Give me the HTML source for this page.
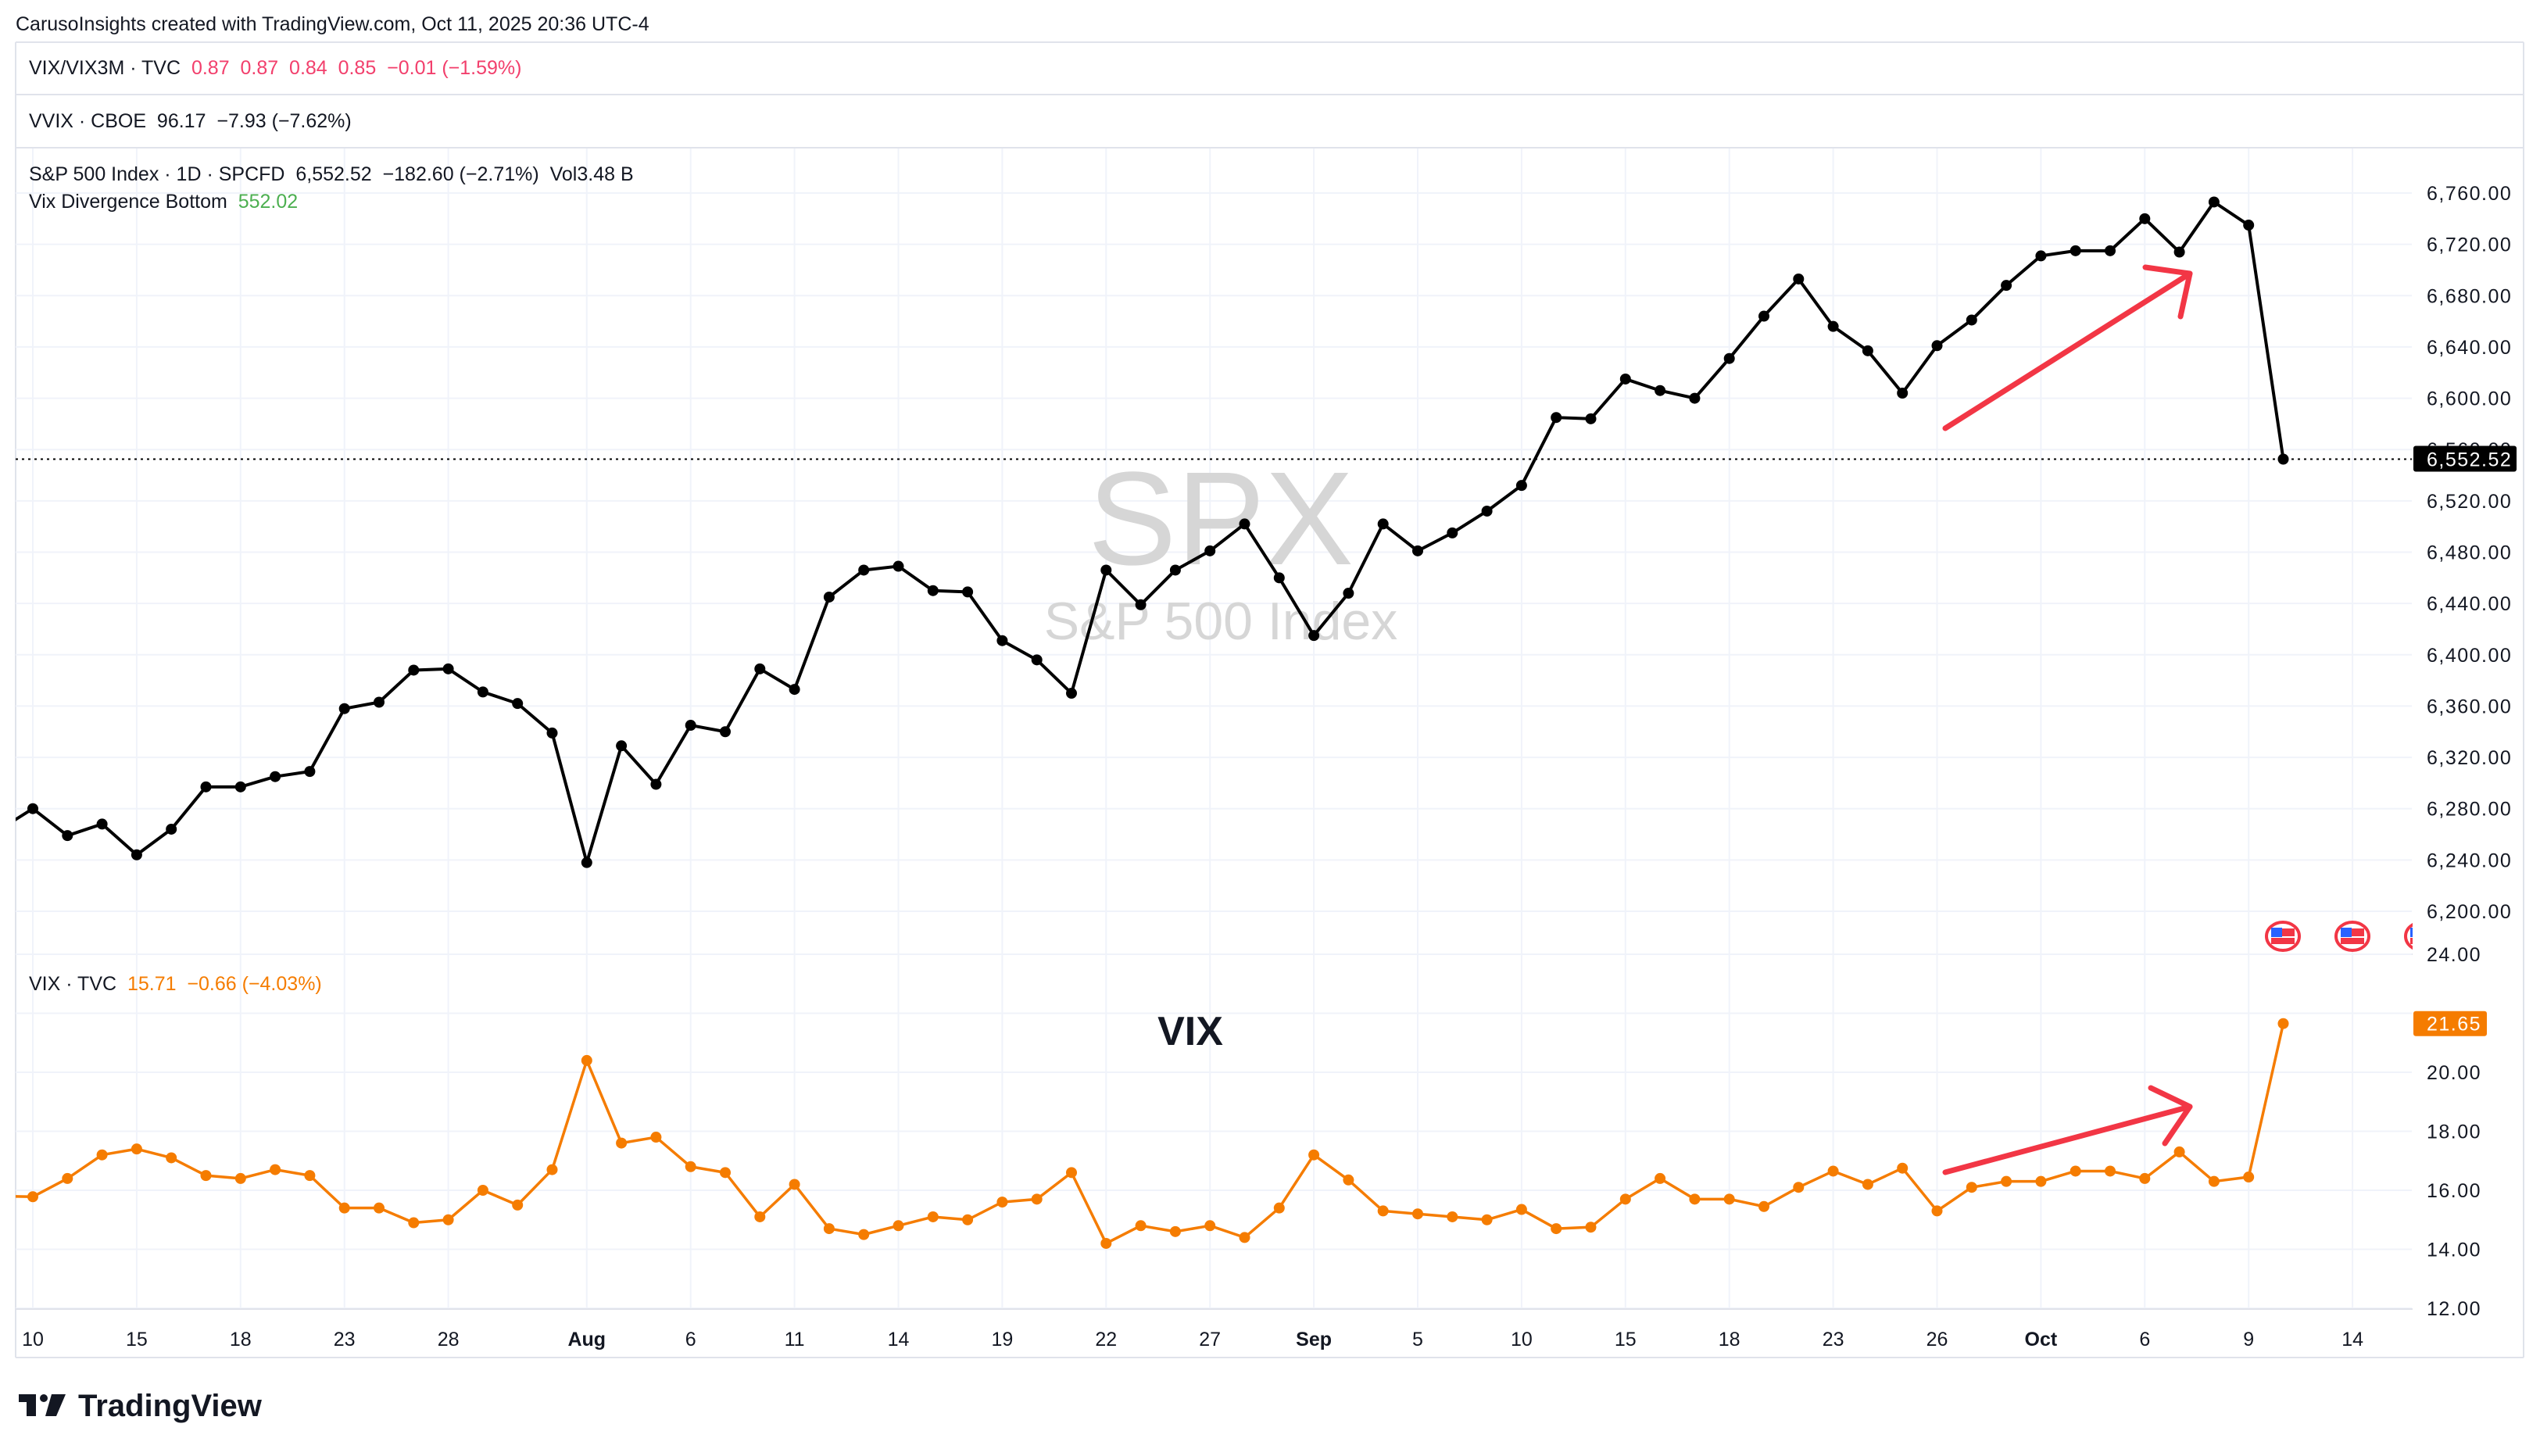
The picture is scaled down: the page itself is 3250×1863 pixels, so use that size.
<!DOCTYPE html>
<html><head><meta charset="utf-8">
<style>
html,body{margin:0;padding:0;background:#fff;}
body{width:3250px;height:1858px;overflow:hidden;font-family:"Liberation Sans",sans-serif;}
svg text{font-family:"Liberation Sans",sans-serif;white-space:pre;}
</style></head>
<body>
<svg id="c" width="3250" height="1858" viewBox="0 0 3250 1858" xmlns="http://www.w3.org/2000/svg" xml:space="preserve">
<text x="20" y="39" font-size="25" fill="#131722">CarusoInsights created with TradingView.com, Oct 11, 2025 20:36 UTC-4</text>
<g stroke="#e0e3eb" stroke-width="2" fill="none">
<line x1="20" y1="54" x2="3229" y2="54"/>
<line x1="20" y1="121" x2="3229" y2="121"/>
<line x1="20" y1="189" x2="3229" y2="189"/>
<line x1="20" y1="1221" x2="3229" y2="1221"/>
<line x1="20" y1="1737" x2="3229" y2="1737"/>
<line x1="20" y1="54" x2="20" y2="1737"/>
<line x1="3229" y1="54" x2="3229" y2="1737"/>
</g>
<text x="37" y="95" font-size="25" fill="#131722">VIX/VIX3M · TVC  <tspan fill="#f23f6c">0.87  0.87  0.84  0.85  −0.01 (−1.59%)</tspan></text>
<text x="37" y="163" font-size="25" fill="#131722">VVIX · CBOE  96.17  −7.93 (−7.62%)</text>
<g id="grid"></g>
<text x="1562" y="722" font-size="170" fill="#d6d6d6" text-anchor="middle">SPX</text>
<text x="1562" y="818" font-size="68" fill="#d6d6d6" text-anchor="middle">S&amp;P 500 Index</text>
<text x="1523" y="1337" font-size="52" font-weight="bold" fill="#131722" text-anchor="middle">VIX</text>
<text x="37" y="231" font-size="25" fill="#131722">S&amp;P 500 Index · 1D · SPCFD  6,552.52  −182.60 (−2.71%)  Vol3.48 B</text>
<text x="37" y="266" font-size="25" fill="#131722">Vix Divergence Bottom  <tspan fill="#4caf50">552.02</tspan></text>
<text x="37" y="1267" font-size="25" fill="#131722">VIX · TVC  <tspan fill="#f57c00">15.71  −0.66 (−4.03%)</tspan></text>
<g id="marks"></g>
<g stroke="#f23645" stroke-width="7" fill="none" stroke-linecap="round" stroke-linejoin="round">
<line x1="2489" y1="548" x2="2802" y2="350"/>
<polyline points="2745,342 2802,350 2790,405"/>
<line x1="2489" y1="1500" x2="2802" y2="1416"/>
<polyline points="2752,1392 2802,1416 2770,1463"/>
</g>
<g id="flags"></g>
<rect x="3087" y="190" width="141" height="1546" fill="#fff"/>
<g id="axes"></g>
<g>
<rect x="24" y="1784" width="22" height="10" fill="#131722"/>
<rect x="34" y="1784" width="12" height="28" fill="#131722"/>
<circle cx="56" cy="1789" r="5" fill="#131722"/>
<polygon points="66,1784 84,1784 72,1812 58,1812" fill="#131722"/>
<text x="100" y="1812" font-size="40" font-weight="bold" fill="#131722">TradingView</text>
</g>
</svg>
<script>
const dates=["Jul 9","Jul 10","Jul 11","Jul 14","Jul 15","Jul 16","Jul 17","Jul 18","Jul 21","Jul 22","Jul 23","Jul 24","Jul 25","Jul 28","Jul 29","Jul 30","Jul 31","Aug 1","Aug 4","Aug 5","Aug 6","Aug 7","Aug 8","Aug 11","Aug 12","Aug 13","Aug 14","Aug 15","Aug 18","Aug 19","Aug 20","Aug 21","Aug 22","Aug 25","Aug 26","Aug 27","Aug 28","Aug 29","Sep 2","Sep 3","Sep 4","Sep 5","Sep 8","Sep 9","Sep 10","Sep 11","Sep 12","Sep 15","Sep 16","Sep 17","Sep 18","Sep 19","Sep 22","Sep 23","Sep 24","Sep 25","Sep 26","Sep 29","Sep 30","Oct 1","Oct 2","Oct 3","Oct 6","Oct 7","Oct 8","Oct 9","Oct 10"];
const spx=[6263,6280,6259,6268,6244,6264,6297,6297,6305,6309,6358,6363,6388,6389,6371,6362,6339,6238,6329,6299,6345,6340,6389,6373,6445,6466,6469,6450,6449,6411,6396,6370,6466,6439,6466,6481,6502,6460,6415,6448,6502,6481,6495,6512,6532,6585,6584,6615,6606,6600,6631,6664,6693,6656,6637,6604,6641,6661,6688,6711,6715,6715,6740,6714,6753,6735,6552.52];
const vix=[15.8,15.78,16.4,17.2,17.4,17.1,16.5,16.4,16.7,16.5,15.4,15.4,14.9,15.0,16.0,15.5,16.7,20.4,17.6,17.8,16.8,16.6,15.1,16.2,14.7,14.5,14.8,15.1,15.0,15.6,15.7,16.6,14.2,14.8,14.6,14.8,14.4,15.4,17.2,16.35,15.3,15.2,15.1,15.0,15.35,14.7,14.75,15.7,16.4,15.7,15.7,15.45,16.1,16.65,16.2,16.75,15.3,16.1,16.3,16.3,16.65,16.65,16.4,17.3,16.3,16.45,21.65];
const spxTicks=[6200,6240,6280,6320,6360,6400,6440,6480,6520,6560,6600,6640,6680,6720,6760];
const vixTicks=[12,14,16,18,20,22,24];
const timeLabels=["10","15","18","23","28","Aug","6","11","14","19","22","27","Sep","5","10","15","18","23","26","Oct","6","9","14"];
const timeIdx=[1,4,7,10,13,17,20,23,26,29,32,35,38,41,44,47,50,53,56,59,62,65,68];
const NS="http://www.w3.org/2000/svg";
const L=20,R=3086,bar=44.3,x0=42-bar;
const xs=i=>x0+i*bar;
const ys=v=>247+(6760-v)*(919/560);
const yv=v=>1372-(v-20)*37.75;
function mk(tag,attrs,parent){const e=document.createElementNS(NS,tag);for(const k in attrs)e.setAttribute(k,attrs[k]);parent.appendChild(e);return e;}
const grid=document.getElementById('grid'),marks=document.getElementById('marks'),axes=document.getElementById('axes'),flags=document.getElementById('flags');
spxTicks.forEach(t=>{const l=mk('line',{x1:L,x2:R,y1:ys(t),y2:ys(t),stroke:'#f0f3fa','stroke-width':2},grid);


const tx=mk('text',{x:3105,y:ys(t)+9,'font-size':25,fill:'#131722','letter-spacing':'1.5'},axes);tx.textContent=t.toLocaleString('en-US',{minimumFractionDigits:2});

});
vixTicks.forEach(t=>{const l=mk('line',{x1:L,x2:R,y1:yv(t),y2:yv(t),stroke:'#f0f3fa','stroke-width':2},grid);


if(t<=20||t==24){const tx=mk('text',{x:3105,y:yv(t)+9,'font-size':25,fill:'#131722','letter-spacing':'1.5'},axes);tx.textContent=t.toFixed(2);

}});
timeIdx.forEach((ix,k)=>{const x=xs(ix);const l=mk('line',{x1:x,x2:x,y1:190,y2:1675,stroke:'#f0f3fa','stroke-width':2},grid);


const b=/[A-Z]/.test(timeLabels[k]);
const tx=mk('text',{x:x,y:1722,'font-size':25,fill:'#131722','text-anchor':'middle','font-weight':b?'bold':'normal'},axes);tx.textContent=timeLabels[k];

});
mk('line',{x1:L,x2:3229,y1:1675,y2:1675,stroke:'#e0e3eb','stroke-width':2},grid);
const clip=mk('clipPath',{id:'cp'},marks);mk('rect',{x:L,y:190,width:R-L,height:1485},clip);
const g=mk('g',{'clip-path':'url(#cp)'},marks);
const sp=mk('polyline',{points:spx.map((v,i)=>xs(i)+','+ys(v)).join(' '),fill:'none',stroke:'#000','stroke-width':4,'stroke-linejoin':'round'},g);


spx.forEach((v,i)=>{const c=mk('circle',{cx:xs(i),cy:ys(v),r:7,fill:'#000'},g);

});
const vl=mk('polyline',{points:vix.map((v,i)=>xs(i)+','+yv(v)).join(' '),fill:'none',stroke:'#f57c00','stroke-width':3.5,'stroke-linejoin':'round'},g);


vix.forEach((v,i)=>{const c=mk('circle',{cx:xs(i),cy:yv(v),r:7,fill:'#f57c00'},g);

});
const lastS=spx[spx.length-1],lastV=vix[vix.length-1];
const dl=mk('line',{x1:L,x2:R,y1:ys(lastS),y2:ys(lastS),stroke:'#000','stroke-width':2,'stroke-dasharray':'3 5'},marks);


[2921,3010,3099].forEach(x=>{const f=mk('g',{},flags);


mk('ellipse',{cx:x,cy:1198,rx:21,ry:18,fill:'#fff',stroke:'#f23645','stroke-width':4},f);
mk('rect',{x:x-15,y:1188,width:30,height:10,fill:'#f23645'},f);
mk('rect',{x:x-15,y:1200,width:30,height:8,fill:'#f23645'},f);
mk('rect',{x:x-15,y:1187,width:14,height:12,fill:'#2962ff'},f);});
const ab=mk('rect',{x:3088,y:ys(lastS)-17,width:132,height:33,rx:3,fill:'#000'},axes);


const at=mk('text',{x:3105,y:ys(lastS)+9,'font-size':25,fill:'#fff','letter-spacing':'1.5'},axes);at.textContent=lastS.toLocaleString('en-US',{minimumFractionDigits:2});
const vb=mk('rect',{x:3088,y:yv(lastV)-16,width:94,height:32,rx:3,fill:'#f57c00'},axes);


const vt=mk('text',{x:3105,y:yv(lastV)+9,'font-size':25,fill:'#fff','letter-spacing':'1.5'},axes);vt.textContent=lastV.toFixed(2);
</script>
</body></html>
